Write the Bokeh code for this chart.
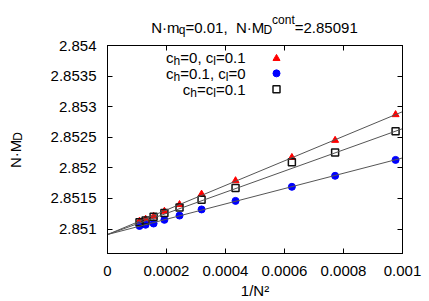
import math
from bokeh.plotting import figure
from bokeh.layouts import column, row
from bokeh.models import Range1d, FixedTicker, PrintfTickFormatter, LinearAxis, Label
from bokeh.core.properties import value
from bokeh.embed import file_html
from bokeh.resources import INLINE

# ---------------- data ----------------
N_values = [32, 36, 40, 48, 56, 64, 72, 80, 88, 96]
inv_N2 = [1.0 / n ** 2 for n in N_values]

md_ch0_cl01 = [2.85287, 2.85245, 2.85217, 2.85179, 2.85157, 2.85140, 2.85129, 2.85121, 2.85116, 2.85113]
md_ch01_cl0 = [2.85213, 2.85187, 2.85169, 2.85146, 2.85132, 2.85122, 2.85115, 2.85109, 2.85107, 2.85105]
md_ch01_cl01 = [2.85260, 2.85225, 2.85209, 2.85167, 2.85148, 2.85135, 2.85126, 2.85120, 2.85114, 2.85111]

fit_intercept = 2.85091
fit_slope_ch0_cl01 = 2.008
fit_slope_ch01_cl0 = 1.252
fit_slope_ch01_cl01 = 1.73
fit_x = [0.0, 0.001]

x_ticks = [0.0, 0.0002, 0.0004, 0.0006, 0.0008, 0.001]
y_ticks = [2.851, 2.8515, 2.852, 2.8525, 2.853, 2.8535, 2.854]
x_min, x_max = 0.0, 0.001
y_min, y_max = 2.8506, 2.854

# ---------------- layout (pixel geometry) ----------------
W, H = 429, 301
TITLE_H = 38
YLAB_W = 30
MW, MH = W - YLAB_W, H - TITLE_H
FL, FT, FW, FH = 107, 45, 295, 209           # frame position in picture pixels
BL, BT = FL - YLAB_W, FT - TITLE_H
BR, BB = MW - BL - FW, MH - BT - FH
FONT = "Liberation Sans"
FS = 15
BASE_FIX = 5.0   # rendered alphabetic baseline sits lower than requested

p = figure(width=MW, height=MH, output_backend="svg", toolbar_location=None,
           x_range=Range1d(x_min, x_max), y_range=Range1d(y_min, y_max),
           min_border_left=BL, min_border_right=BR, min_border_top=BT, min_border_bottom=BB,
           title=None)
p.grid.visible = False
p.outline_line_color = "black"
p.outline_line_width = 1
p.background_fill_color = "white"
p.border_fill_color = "white"

def style_axis(ax, ticks, show_labels, standoff=10):
    ax.ticker = FixedTicker(ticks=ticks)
    ax.formatter = PrintfTickFormatter(format="%g")
    ax.major_tick_in = 5
    ax.major_tick_out = 0
    ax.minor_tick_line_color = None
    ax.major_tick_line_color = "black"
    ax.axis_line_color = "black"
    ax.major_label_text_font = FONT
    ax.major_label_text_font_size = f"{FS}px"
    ax.major_label_text_color = "black"
    ax.major_label_standoff = standoff
    if not show_labels:
        ax.major_label_overrides = {t: "" for t in ticks}
        ax.major_label_text_font_size = "1px"

style_axis(p.xaxis[0], x_ticks, True, 12)
style_axis(p.yaxis[0], y_ticks, True, 11)
p.xaxis[0].axis_label = "1/N²"
p.xaxis[0].axis_label_text_font = FONT
p.xaxis[0].axis_label_text_font_size = f"{FS}px"
p.xaxis[0].axis_label_text_font_style = "normal"
p.xaxis[0].axis_label_text_color = "black"
p.xaxis[0].axis_label_standoff = 3

top = LinearAxis()
style_axis(top, x_ticks, False, 0)
p.add_layout(top, "above")
right = LinearAxis()
style_axis(right, y_ticks, False, 0)
p.add_layout(right, "right")

# ---------------- data marks ----------------
p.scatter(inv_N2, md_ch0_cl01, marker="triangle", size=7, fill_color="#ff0000", line_color="#ff0000")
p.scatter(inv_N2, md_ch01_cl0, marker="circle", size=7, fill_color="#0000ff", line_color="#0000ff")
p.scatter(inv_N2, md_ch01_cl01, marker="square", size=7, fill_color=None, line_color="#111111", line_width=1.5)

for slope in (fit_slope_ch0_cl01, fit_slope_ch01_cl0, fit_slope_ch01_cl01):
    p.line(fit_x, [fit_intercept + slope * x for x in fit_x], line_color="#555555", line_width=1)

# ---------------- rich text helpers ----------------
W_EM = {"N": .722, "·": .278, "m": .833, "q": .556, "=": .584, ".": .278, ",": .278, " ": .278,
        "M": .833, "D": .722, "c": .5, "o": .556, "n": .556, "t": .278, "h": .556, "l": .222,
        "/": .278}

def tw(s, fs):
    return sum(W_EM.get(ch, .556) for ch in s) * fs

def layout_rich(segs, x0, y0, align="left", rotated=False, fs=FS):
    """Return list of (text, x, y, size) in picture pixel coords (y down)."""
    items = []
    for s, sh in segs:
        f = fs if sh == 0 else round(fs * 0.8)
        items.append((s, sh, f, tw(s, f)))
    total = sum(i[3] for i in items)
    pos = 0 if align == "left" else (-total if align == "right" else -total / 2)
    out = []
    for s, sh, f, w in items:
        if not rotated:
            out.append((s, x0 + pos, y0 - sh - BASE_FIX, f))
        else:  # text runs upward, "up" points left
            out.append((s, x0 - sh - BASE_FIX, y0 - pos, f))
        pos += w
    return [o for o in out if o[0].strip()]

def aux_fig(w, h, xr, yr):
    f = figure(width=w, height=h, output_backend="svg", toolbar_location=None,
               x_range=Range1d(*xr), y_range=Range1d(*yr),
               x_axis_type=None, y_axis_type=None, min_border=0, title=None)
    f.grid.visible = False
    f.outline_line_color = None
    f.background_fill_color = "white"
    f.border_fill_color = "white"
    return f

def draw_glyph_text(f, pieces, angle=0.0):
    for s, x, y, size in pieces:
        f.text(x=[x], y=[y], text=[s], text_font=value(FONT), text_font_size=value(f"{size}px"),
               text_color="black", text_align="left", text_baseline="alphabetic", angle=angle)

# title figure: its frame spans the whole strip, ranges in picture pixels
tfig = aux_fig(W, TITLE_H, (0, W), (TITLE_H, 0))
draw_glyph_text(tfig, layout_rich([("N·m", 0), ("q", -3.3), ("=0.01,", 0), ("  ", 0), ("N·M", 0),
                                   ("D", -3.3), ("cont", 7), ("=2.85091", 0)],
                                  254, 31.5, align="center"))

# y label figure: its frame is aligned with the main frame vertically
yfig = aux_fig(YLAB_W, MH, (0, YLAB_W), (FT + FH, FT))
draw_glyph_text(yfig, layout_rich([("N·M", 0), ("D", -3.3)], 19.5, 150, align="center", rotated=True),
                angle=math.pi / 2)

# legend (inside the frame, via Labels)
def dx(px):
    return x_min + (px - FL) / FW * (x_max - x_min)

def dy(py):
    return y_max - (py - FT) / FH * (y_max - y_min)

legend_rows = [
    [("c", 0), ("h", -3.3), ("=0, c", 0), ("l", -3.3), ("=0.1", 0)],
    [("c", 0), ("h", -3.3), ("=0.1, c", 0), ("l", -3.3), ("=0", 0)],
    [("c", 0), ("h", -3.3), ("=c", 0), ("l", -3.3), ("=0.1", 0)],
]
row_y = [57, 73, 89]
for segs, yc in zip(legend_rows, row_y):
    for s, x, y, size in layout_rich(segs, 245, yc + 5, align="right"):
        p.add_layout(Label(x=dx(x), y=dy(y), text=s, text_font=FONT, text_font_size=f"{size}px",
                           text_color="black", text_align="left", text_baseline="alphabetic"))
lx = dx(276)
p.scatter([lx], [dy(row_y[0] + 1)], marker="triangle", size=7, fill_color="#ff0000", line_color="#ff0000")
p.scatter([lx], [dy(row_y[1])], marker="circle", size=7, fill_color="#0000ff", line_color="#0000ff")
p.scatter([lx], [dy(row_y[2])], marker="square", size=7, fill_color=None, line_color="#111111", line_width=1.5)

layout = column(tfig, row(yfig, p, spacing=0), spacing=0)
open("out.html", "w").write(file_html(layout, INLINE))
